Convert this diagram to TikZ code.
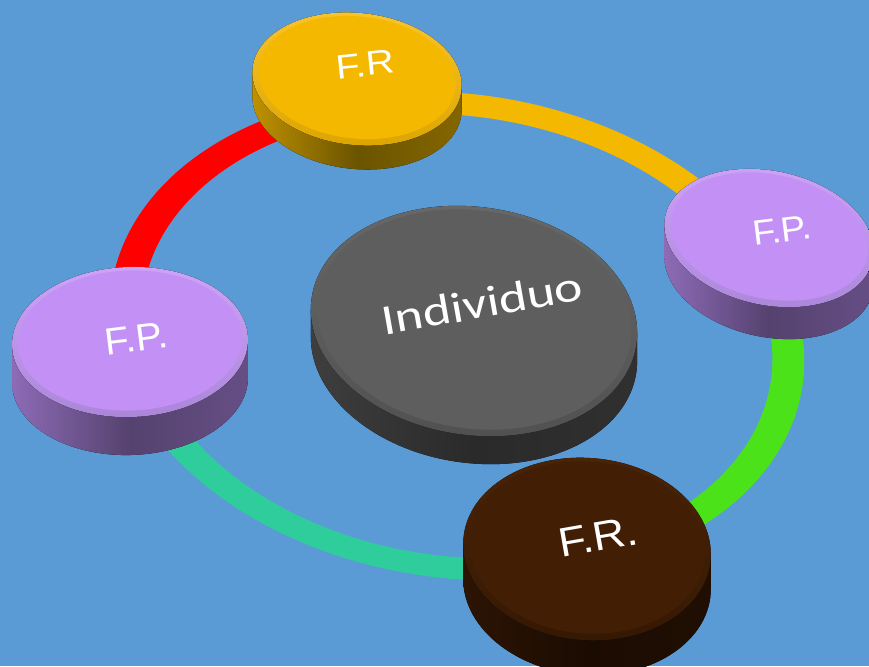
\documentclass[tikz,border=0pt]{standalone}
\usepackage{fontspec}
\newfontfamily\lbfont{Liberation Sans}
\newfontfamily\cbfont{Carlito}
\definecolor{bg}{HTML}{5B9BD5}
\definecolor{ringred}{HTML}{FF0000}
\definecolor{ringorange}{HTML}{F5B800}
\definecolor{ringgreen}{HTML}{4CE21A}
\definecolor{ringteal}{HTML}{2ECD9B}
\definecolor{yelF}{HTML}{F5B800}\definecolor{yelhi}{HTML}{F7C52E}\definecolor{yello}{HTML}{DCA400}
\definecolor{yelsd}{HTML}{6B5400}\definecolor{yelsl}{HTML}{BF9100}
\definecolor{purF}{HTML}{C391F5}\definecolor{purhi}{HTML}{CDA3F7}\definecolor{purlo}{HTML}{AB86D8}
\definecolor{pursd}{HTML}{55426F}\definecolor{pursl}{HTML}{8D6BB6}
\definecolor{brnF}{HTML}{421E04}\definecolor{brnhi}{HTML}{4A2407}\definecolor{brnlo}{HTML}{351803}
\definecolor{brnsd}{HTML}{1B0C02}\definecolor{brnsl}{HTML}{2C1404}
\definecolor{gryF}{HTML}{5E5E5E}\definecolor{gryhi}{HTML}{686868}\definecolor{grylo}{HTML}{505050}
\definecolor{grysd}{HTML}{2A2A2A}\definecolor{grysl}{HTML}{3E3E3E}
\tikzset{
  lbltext/.style={inner sep=0pt, text=white}
}
\newcommand\ringseg[3]{%
  \fill[#1] (#2:349 and 242) arc[start angle=#2,end angle=#3,x radius=349,y radius=242]
    -- (#3:317 and 220) arc[start angle=#3,end angle=#2,x radius=317,y radius=220] -- cycle;}
\newcommand\mydisc[7]{%
  \pgfmathsetmacro\tz{atan(-(#4*sin(#5))/(#3*cos(#5)))}%
  \pgfmathsetmacro\tzz{\tz+180}%
  \pgfmathsetmacro\ox{#6*sin(#5)}%
  \pgfmathsetmacro\oy{#6*cos(#5)}%
  \pgfmathsetmacro\ia{#3-6}\pgfmathsetmacro\ib{#4-5}%
  \begin{scope}[shift={(#1,#2)},rotate={-(#5)}]
    \fill[left color=#7sl, right color=#7sd!70!#7sl, middle color=#7sd]
      ({#3*cos(\tz)},{#4*sin(\tz)}) -- ({#3*cos(\tz)+\ox},{#4*sin(\tz)+\oy})
      arc[start angle=\tz,end angle=\tzz,x radius=#3,y radius=#4]
      -- ({#3*cos(\tzz)},{#4*sin(\tzz)})
      arc[start angle=\tzz,end angle=\tz,x radius=#3,y radius=#4] -- cycle;
    \fill[top color=#7hi, bottom color=#7lo] (0,0) ellipse[x radius=#3, y radius=#4];
    \fill[#7F] (0,-1.5) ellipse[x radius=\ia, y radius=\ib];
  \end{scope}}
\newcommand\mylabel[7]{%
  \node[lbltext, rotate=#4, xscale=#5] (#1) at (#2,#3) {#6 #7};}
\begin{document}
\begin{tikzpicture}[x=1pt,y=-1pt]
\useasboundingbox (0,0) rectangle (869,666);
\fill[bg] (0,0) rectangle (869,666);
\clip (0,0) rectangle (869,666);
% ring
\begin{scope}[shift={(457,336)},rotate=-8]
  \ringseg{ringred}{162}{247}
  \ringseg{ringorange}{247}{330}
  \ringseg{ringgreen}{330}{421}
  \ringseg{ringteal}{421}{522}
\end{scope}
% discs
\mydisc{357}{79}{105}{66}{6}{24}{yel}
\mydisc{769}{238}{106}{67}{12}{32}{pur}
\mydisc{474}{321}{164}{114}{8}{28}{gry}
\mydisc{130}{342}{118}{75}{-2}{38}{pur}
\mydisc{587}{549}{124}{91}{5}{35}{brn}
% labels
\mylabel{frtop}{360}{65}{6}{1.15}{\lbfont\fontsize{34}{34}\selectfont}{F.R}
\mylabel{fpright}{777}{231}{7}{1.07}{\lbfont\fontsize{35}{35}\selectfont}{F.P.}
\mylabel{fpleft}{131}{339}{7}{1.05}{\lbfont\fontsize{38}{38}\selectfont}{F.P.}
\mylabel{frbottom}{592}{538}{10}{1.1}{\lbfont\fontsize{41}{41}\selectfont}{F.R.}
\mylabel{indiv}{476}{304}{10}{1.25}{\cbfont\fontsize{43}{43}\selectfont}{Individuo}
\end{tikzpicture}
\end{document}
